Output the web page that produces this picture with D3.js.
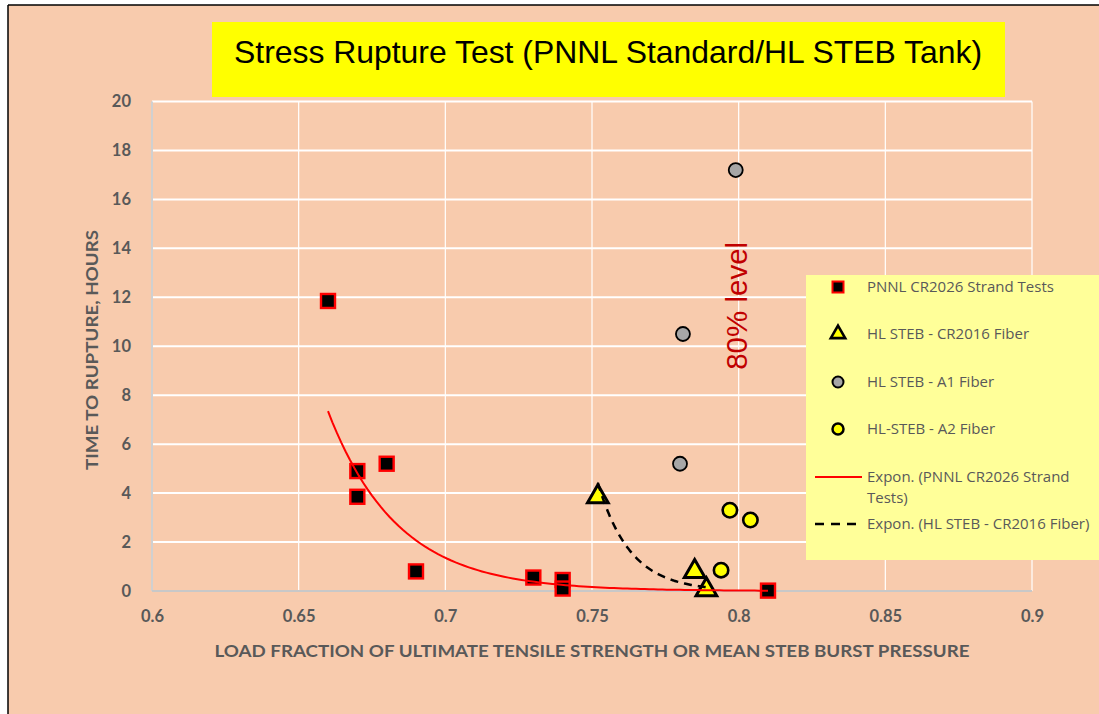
<!DOCTYPE html>
<html><head><meta charset="utf-8">
<script src="https://cdn.jsdelivr.net/npm/d3@7"></script>
<style>html,body{margin:0;padding:0;background:#fff;}svg{display:block;}</style>
</head><body>
<script>
// ---- data ----
const xTicks = [0.6, 0.65, 0.7, 0.75, 0.8, 0.85, 0.9];
const yTicks = [0, 2, 4, 6, 8, 10, 12, 14, 16, 18, 20];
const pnnlX = [0.66, 0.67, 0.67, 0.68, 0.69, 0.73, 0.74, 0.74, 0.81];
const pnnlY = [11.85, 4.9, 3.85, 5.2, 0.8, 0.55, 0.45, 0.1, 0.015];
const cr2016X = [0.752, 0.785, 0.789];
const cr2016Y = [3.85, 0.8, 0.05];
const a1X = [0.799, 0.781, 0.78];
const a1Y = [17.2, 10.5, 5.2];
const a2X = [0.797, 0.804, 0.794];
const a2Y = [3.3, 2.9, 0.85];
const legendLabels = ["PNNL CR2026 Strand Tests", "HL STEB - CR2016 Fiber", "HL STEB - A1 Fiber", "HL-STEB - A2 Fiber", "Expon. (PNNL CR2026 Strand|Tests)", "Expon. (HL STEB - CR2016 Fiber)"];
const titleText = "Stress Rupture Test (PNNL Standard/HL STEB Tank)";
const xTitle = "LOAD FRACTION OF ULTIMATE TENSILE STRENGTH OR MEAN STEB BURST PRESSURE";
const yTitle = "TIME TO RUPTURE, HOURS";
const noteText = "80% level";

// ---- layout ----
const W = 1099, H = 714;
const svg = d3.select("body").append("svg").attr("width", W).attr("height", H);
svg.append("rect").attr("x", 8).attr("y", 5).attr("width", W).attr("height", H).attr("fill", "#F8CBAD");
svg.append("line").attr("x1", 8).attr("x2", 8).attr("y1", 5).attr("y2", H).attr("stroke", "#000").attr("stroke-width", 1.5);
svg.append("line").attr("x1", 8).attr("x2", W).attr("y1", 5).attr("y2", 5).attr("stroke", "#000").attr("stroke-width", 1.5);

const x = d3.scaleLinear().domain([0.6, 0.9]).range([152, 1032]);
const y = d3.scaleLinear().domain([0, 20]).range([591, 101.5]);

// gridlines
svg.append("g").selectAll("line").data(yTicks.filter(d => d > 0)).join("line")
  .attr("x1", x(0.6)).attr("x2", x(0.9)).attr("y1", d => y(d)).attr("y2", d => y(d))
  .attr("stroke", "#fff").attr("stroke-width", 2);
svg.append("g").selectAll("line").data(xTicks.filter(d => d > 0.6)).join("line")
  .attr("x1", d => x(d)).attr("x2", d => x(d)).attr("y1", y(20)).attr("y2", y(0))
  .attr("stroke", "#fff").attr("stroke-width", 1.2);
// axis lines
svg.append("line").attr("x1", x(0.6)).attr("x2", x(0.6)).attr("y1", y(20)).attr("y2", y(0)).attr("stroke", "#D0D0D0").attr("stroke-width", 2);
svg.append("line").attr("x1", x(0.6)).attr("x2", x(0.9)).attr("y1", y(0)).attr("y2", y(0)).attr("stroke", "#C8C8C8").attr("stroke-width", 2);

// tick labels via axes
const tickFont = "Lato, 'Open Sans', sans-serif";
const yAxis = svg.append("g").attr("transform", `translate(${x(0.6)},0)`)
  .call(d3.axisLeft(y).tickValues(yTicks).tickFormat(d3.format("d")).tickSize(0).tickPadding(21));
const xAxis = svg.append("g").attr("transform", `translate(0,${y(0)})`)
  .call(d3.axisBottom(x).tickValues(xTicks).tickFormat(d => String(d)).tickSize(0).tickPadding(19));
[yAxis, xAxis].forEach(a => {
  a.select(".domain").remove();
  a.selectAll("text").attr("fill", "#595959").attr("font-family", tickFont).attr("font-weight", "bold").attr("font-size", 16.5);
});

// axis titles
svg.append("text").attr("x", 592).attr("y", 657).attr("text-anchor", "middle")
  .attr("font-family", tickFont).attr("font-weight", "bold").attr("font-size", 17).attr("fill", "#595959")
  .attr("textLength", 755).attr("lengthAdjust", "spacingAndGlyphs").text(xTitle);
svg.append("text").attr("transform", "translate(98,350) rotate(-90)").attr("text-anchor", "middle")
  .attr("font-family", tickFont).attr("font-weight", "bold").attr("font-size", 17).attr("fill", "#595959")
  .attr("textLength", 240).attr("lengthAdjust", "spacingAndGlyphs").text(yTitle);

// title
svg.append("rect").attr("x", 212).attr("y", 22).attr("width", 793).attr("height", 75).attr("fill", "#FFFF00");
svg.append("text").attr("x", 608).attr("y", 63).attr("text-anchor", "middle")
  .attr("font-family", "'Liberation Sans', Arial, sans-serif").attr("font-size", 32).attr("fill", "#000")
  .attr("textLength", 748).attr("lengthAdjust", "spacingAndGlyphs").text(titleText);

// 80% level note
svg.append("text").attr("transform", `translate(${x(0.8) + 8},${y(11.65)}) rotate(-90)`).attr("text-anchor", "middle")
  .attr("font-family", "'Liberation Sans', Arial, sans-serif").attr("font-size", 29.5).attr("fill", "#C00000")
  .text(noteText);

// exponential trend (least squares on ln y, as in spreadsheet trendlines)
function expFit(xs, ys) {
  const ly = ys.map(Math.log);
  const mx = d3.mean(xs), my = d3.mean(ly);
  let sxy = 0, sxx = 0;
  xs.forEach((v, i) => { sxy += (v - mx) * (ly[i] - my); sxx += (v - mx) * (v - mx); });
  const b = sxy / sxx, a = Math.exp(my - b * mx);
  return v => a * Math.exp(b * v);
}
function trendPts(xs, ys) {
  const f = expFit(xs, ys);
  const lo = d3.min(xs), hi = d3.max(xs);
  return d3.range(0, 101).map(i => { const v = lo + (hi - lo) * i / 100; return [v, f(v)]; });
}
const line = d3.line().x(d => x(d[0])).y(d => y(d[1]));

const pnnl = pnnlX.map((v, i) => [v, pnnlY[i]]);
const cr = cr2016X.map((v, i) => [v, cr2016Y[i]]);
const a1 = a1X.map((v, i) => [v, a1Y[i]]);
const a2 = a2X.map((v, i) => [v, a2Y[i]]);

const triPath = d3.symbol().type(d3.symbolTriangle).size(185)();

// markers
svg.append("g").selectAll("rect").data(pnnl).join("rect")
  .attr("x", d => x(d[0]) - 7).attr("y", d => y(d[1]) - 7).attr("width", 14).attr("height", 14)
  .attr("fill", "#000").attr("stroke", "#FF0000").attr("stroke-width", 2.4);
svg.append("g").selectAll("path").data(cr).join("path")
  .attr("d", triPath).attr("transform", d => `translate(${x(d[0])},${y(d[1])})`)
  .attr("fill", "#FFFF00").attr("stroke", "#000").attr("stroke-width", 3).attr("stroke-linejoin", "miter");
svg.append("g").selectAll("circle").data(a1).join("circle")
  .attr("cx", d => x(d[0])).attr("cy", d => y(d[1])).attr("r", 7)
  .attr("fill", "#A6A6A6").attr("stroke", "#000").attr("stroke-width", 1.8);
svg.append("g").selectAll("circle").data(a2).join("circle")
  .attr("cx", d => x(d[0])).attr("cy", d => y(d[1])).attr("r", 7.2)
  .attr("fill", "#FFFF00").attr("stroke", "#000").attr("stroke-width", 2.6);

// trendlines
svg.append("path").attr("d", line(trendPts(pnnlX, pnnlY))).attr("fill", "none").attr("stroke", "#FF0000").attr("stroke-width", 2);
svg.append("path").attr("d", line(trendPts(cr2016X, cr2016Y))).attr("fill", "none").attr("stroke", "#000").attr("stroke-width", 2.5).attr("stroke-dasharray", "8,6");

// legend
const lg = svg.append("g");
lg.append("rect").attr("x", 806).attr("y", 275).attr("width", 300).attr("height", 285).attr("fill", "#FFFF99");
const rowsY = [287, 334, 382, 429, 477, 524];
const lx = 838;
lg.append("rect").attr("x", lx - 5.5).attr("y", rowsY[0] - 5.5).attr("width", 11).attr("height", 11).attr("fill", "#000").attr("stroke", "#FF0000").attr("stroke-width", 2);
lg.append("path").attr("d", d3.symbol().type(d3.symbolTriangle).size(90)()).attr("transform", `translate(${lx},${rowsY[1]})`)
  .attr("fill", "#FFFF00").attr("stroke", "#000").attr("stroke-width", 2.6);
lg.append("circle").attr("cx", lx).attr("cy", rowsY[2]).attr("r", 5.5).attr("fill", "#A6A6A6").attr("stroke", "#000").attr("stroke-width", 2);
lg.append("circle").attr("cx", lx).attr("cy", rowsY[3]).attr("r", 5.5).attr("fill", "#FFFF00").attr("stroke", "#000").attr("stroke-width", 2.5);
lg.append("line").attr("x1", 815).attr("x2", 862).attr("y1", rowsY[4]).attr("y2", rowsY[4]).attr("stroke", "#FF0000").attr("stroke-width", 2);
lg.append("line").attr("x1", 815).attr("x2", 862).attr("y1", rowsY[5]).attr("y2", rowsY[5]).attr("stroke", "#000").attr("stroke-width", 2.5).attr("stroke-dasharray", "9,7");
legendLabels.forEach((t, i) => {
  const parts = t.split("|");
  const tx = lg.append("text").attr("x", 867).attr("y", rowsY[i] + 5)
    .attr("font-family", "'Open Sans', Lato, sans-serif").attr("font-size", 15).attr("fill", "#595959");
  parts.forEach((p, j) => tx.append("tspan").attr("x", 867).attr("dy", j === 0 ? 0 : 21).text(p));
});
</script>
</body></html>
